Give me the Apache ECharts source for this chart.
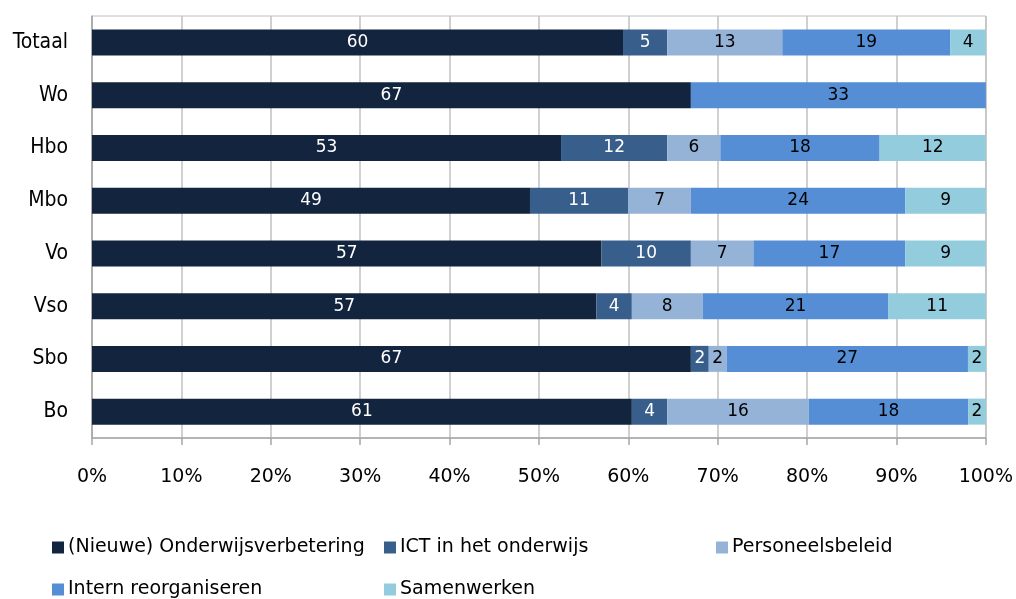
<!DOCTYPE html>
<html>
<head>
<meta charset="utf-8">
<script src="https://cdn.jsdelivr.net/npm/echarts@6/dist/echarts.min.js"></script>
<style>
  html, body { margin: 0; padding: 0; background: #fff; }
  #chart { width: 1016px; height: 599px; }
</style>
</head>
<body>
<div id="chart"></div>
<script>
// Sectors, listed top to bottom
const categories = ['Totaal', 'Wo', 'Hbo', 'Mbo', 'Vo', 'Vso', 'Sbo', 'Bo'];

const seriesNames = [
  '(Nieuwe) Onderwijsverbetering',
  'ICT in het onderwijs',
  'Personeelsbeleid',
  'Intern reorganiseren',
  'Samenwerken'
];

// Percentages per sector (same order as categories)
const onderwijsverbetering = [60, 67, 53, 49, 57, 57, 67, 61];
const ictOnderwijs         = [5, null, 12, 11, 10, 4, 2, 4];
const personeelsbeleid     = [13, null, 6, 7, 7, 8, 2, 16];
const internReorganiseren  = [19, 33, 18, 24, 17, 21, 27, 18];
const samenwerken          = [4, null, 12, 9, 9, 11, 2, 2];

const xTicks = [0, 10, 20, 30, 40, 50, 60, 70, 80, 90, 100];

const colors = ['#13243f', '#385e8b', '#95b3d7', '#558ed5', '#93cddd'];
const labelColors = ['#ffffff', '#ffffff', '#000000', '#000000', '#000000'];

const rows = [onderwijsverbetering, ictOnderwijs, personeelsbeleid, internReorganiseren, samenwerken];

// Each bar is scaled to its row total so every row fills 100%
const totals = categories.map((_, i) => rows.reduce((s, r) => s + (r[i] || 0), 0));

const FONT = 'DejaVu Sans';
const FONT_NARROW = '"DejaVu Sans Condensed", "DejaVu Sans"';

const series = rows.map((vals, k) => ({
  name: seriesNames[k],
  type: 'bar',
  stack: 'total',
  barWidth: 26,
  itemStyle: { color: colors[k] },
  label: {
    show: true,
    position: 'inside',
    color: labelColors[k],
    fontFamily: FONT,
    fontSize: 17,
    formatter: p => (vals[p.dataIndex] == null ? '' : String(vals[p.dataIndex]))
  },
  emphasis: { disabled: true },
  data: vals.map((v, i) => (v == null ? null : v / totals[i] * 100))
}));

// Legend laid out in two rows of fixed columns
const legendPos = [
  { left: 52, top: 538 },
  { left: 384, top: 538 },
  { left: 716, top: 538 },
  { left: 52, top: 580 },
  { left: 384, top: 580 }
];
const legends = seriesNames.map((n, k) => ({
  data: [n],
  left: legendPos[k].left,
  top: legendPos[k].top,
  icon: 'rect',
  itemWidth: 12,
  itemHeight: 12,
  itemGap: 0,
  padding: 0,
  textStyle: { fontFamily: FONT, fontSize: 19, color: '#000', padding: [0, 0, 0, -1] },
  selectedMode: false
}));

const chart = echarts.init(document.getElementById('chart'), null, { renderer: 'canvas' });
chart.setOption({
  animation: false,
  legend: legends,
  grid: {
    left: 92, right: 29, top: 16, height: 422,
    show: true, borderColor: '#c0c0c0', borderWidth: 1
  },
  xAxis: {
    type: 'value',
    min: 0, max: 100, interval: 10,
    axisLine: { show: true, lineStyle: { color: '#a6a6a6', width: 1.5 } },
    axisTick: { show: true, length: 7, lineStyle: { color: '#a6a6a6', width: 1.5 } },
    splitLine: { show: true, lineStyle: { color: '#c0c0c0', width: 1.5 } },
    axisLabel: {
      fontFamily: FONT, fontSize: 19, color: '#000', margin: 30,
      formatter: v => (xTicks.includes(v) ? v + '%' : '')
    }
  },
  yAxis: {
    type: 'category',
    inverse: true,
    data: categories,
    axisLine: { show: true, lineStyle: { color: '#a6a6a6', width: 1.5 } },
    axisTick: { show: false },
    axisLabel: { fontFamily: FONT_NARROW, fontSize: 21, color: '#000', margin: 24 }
  },
  series: series
});
</script>
</body>
</html>
